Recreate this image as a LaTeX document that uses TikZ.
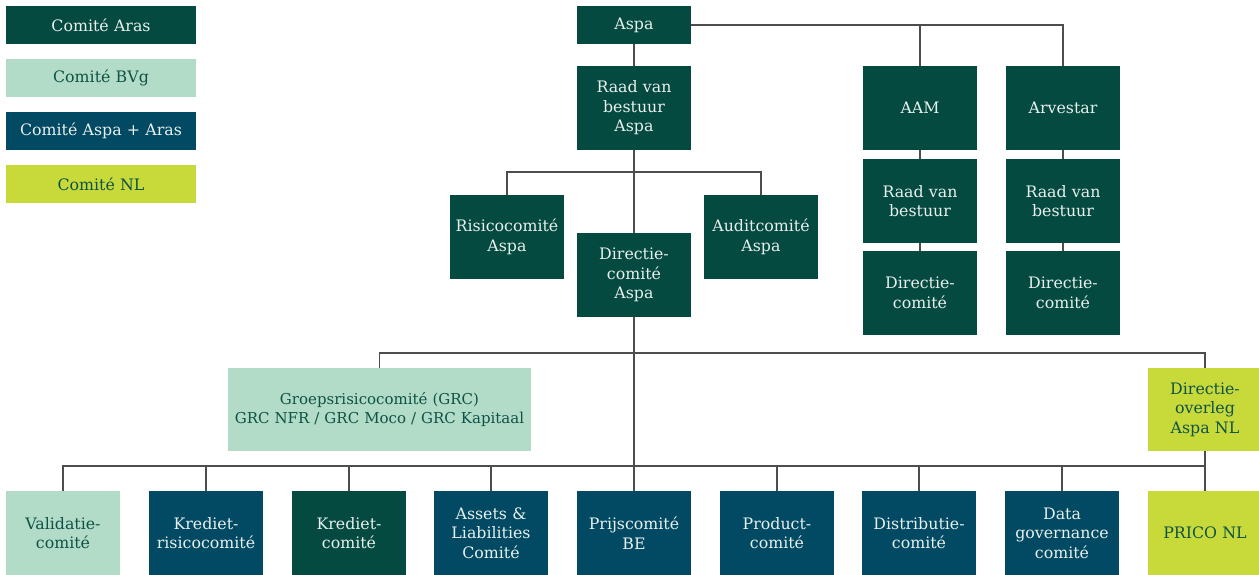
\documentclass[tikz,border=0pt]{standalone}
\usepackage{fontspec}
\setmainfont{DejaVu Serif}
\usetikzlibrary{positioning}
\definecolor{arasgroen}{HTML}{054A41}
\definecolor{bvgmint}{HTML}{B2DBC8}
\definecolor{aspablauw}{HTML}{024A63}
\definecolor{nllime}{HTML}{C8D93A}
\definecolor{lichttekst}{HTML}{E8F0EC}
\definecolor{donkertekst}{HTML}{0E5346}
\definecolor{lijngrijs}{HTML}{4D4D4D}
\tikzset{
    blok/.style={
           rectangle,
           inner sep=0pt,
           minimum width=114pt,
           minimum height=84pt,
           text width=112pt,
           align=center,
           font=\fontsize{15.8}{19.5}\selectfont},
    aras/.style={blok, fill=arasgroen, text=lichttekst},
    bvg/.style={blok, fill=bvgmint, text=donkertekst},
    aspaaras/.style={blok, fill=aspablauw, text=lichttekst},
    nl/.style={blok, fill=nllime, text=donkertekst},
    legenda/.style={minimum width=190pt, minimum height=38pt, text width=186pt},
    lijn/.style={
           draw=lijngrijs,
           line width=1.2pt}
}

\begin{document}
\begin{tikzpicture}[x=1pt, y=-1pt]
          \useasboundingbox (0,0) rectangle (1259,574);
          % legenda
          \node[aras, legenda](legaras) at (101,25) {Comité Aras};
          \node[bvg, legenda](legbvg) at (101,78) {Comité BVg};
          \node[aspaaras, legenda](legaspaaras) at (101,131) {Comité Aspa + Aras};
          \node[nl, legenda](legnl) at (101,184) {Comité NL};
          % top
          \node[aras, minimum height=38pt](aspa) at (634,25) {Aspa};
          \node[aras](rvbaspa) at (634,108) {Raad van\\bestuur\\Aspa};
          \node[aras](risico) at (507,237) {Risicocomité\\Aspa};
          \node[aras](audit) at (761,237) {Auditcomité\\Aspa};
          \node[aras](dcaspa) at (634,275) {Directie-\\comité\\Aspa};
          \node[aras](aam) at (920,108) {AAM};
          \node[aras](arvestar) at (1063,108) {Arvestar};
          \node[aras](rvbaam) at (920,201) {Raad van\\bestuur};
          \node[aras](rvbarvestar) at (1063,201) {Raad van\\bestuur};
          \node[aras](dcaam) at (920,293) {Directie-\\comité};
          \node[aras](dcarvestar) at (1063,293) {Directie-\\comité};
          % midden
          \node[bvg, minimum width=303pt, minimum height=83pt, text width=300pt,
                font=\fontsize{15}{19.5}\selectfont](grc) at (379.5,409.5) {Groepsrisicocomité (GRC)\\GRC NFR / GRC Moco / GRC Kapitaal};
          \node[nl, minimum height=83pt](overleg) at (1205,409.5) {Directie-\\overleg\\Aspa NL};
          % onderste rij
          \node[bvg](validatie) at (63,533) {Validatie-\\comité};
          \node[aspaaras](kredrisico) at (206,533) {Krediet-\\risicocomité};
          \node[aras](krediet) at (349,533) {Krediet-\\comité};
          \node[aspaaras](alco) at (491,533) {Assets \&\\Liabilities\\Comité};
          \node[aspaaras](prijs) at (634,533) {Prijscomité\\BE};
          \node[aspaaras](product) at (777,533) {Product-\\comité};
          \node[aspaaras](distributie) at (919,533) {Distributie-\\comité};
          \node[aspaaras](data) at (1062,533) {Data\\governance\\comité};
          \node[nl](prico) at (1205,533) {PRICO NL};
          % verbindingen
          \coordinate (tak1) at (634,172);
          \coordinate (tak2) at (634,353);
          \coordinate (tak3) at (634,466);
          \draw[lijn] (aspa) -- (rvbaspa);
          \draw[lijn] (aspa.east) -| (arvestar.north);
          \draw[lijn] (aam.north) -- (aam.north |- aspa.east);
          \draw[lijn] (aam) -- (rvbaam);
          \draw[lijn] (rvbaam) -- (dcaam);
          \draw[lijn] (arvestar) -- (rvbarvestar);
          \draw[lijn] (rvbarvestar) -- (dcarvestar);
          \draw[lijn] (rvbaspa) -- (dcaspa);
          \draw[lijn] (risico.north) |- (tak1) -| (audit.north);
          \draw[lijn] (dcaspa) -- (prijs);
          \draw[lijn] (grc.north) |- (tak2) -| (overleg.north);
          \draw[lijn] (overleg) -- (prico);
          \draw[lijn] (validatie.north) |- (tak3) -| (prico.north);
          \draw[lijn] (kredrisico.north) -- (kredrisico.north |- tak3);
          \draw[lijn] (krediet.north) -- (krediet.north |- tak3);
          \draw[lijn] (alco.north) -- (alco.north |- tak3);
          \draw[lijn] (product.north) -- (product.north |- tak3);
          \draw[lijn] (distributie.north) -- (distributie.north |- tak3);
          \draw[lijn] (data.north) -- (data.north |- tak3);
\end{tikzpicture}
\end{document}
